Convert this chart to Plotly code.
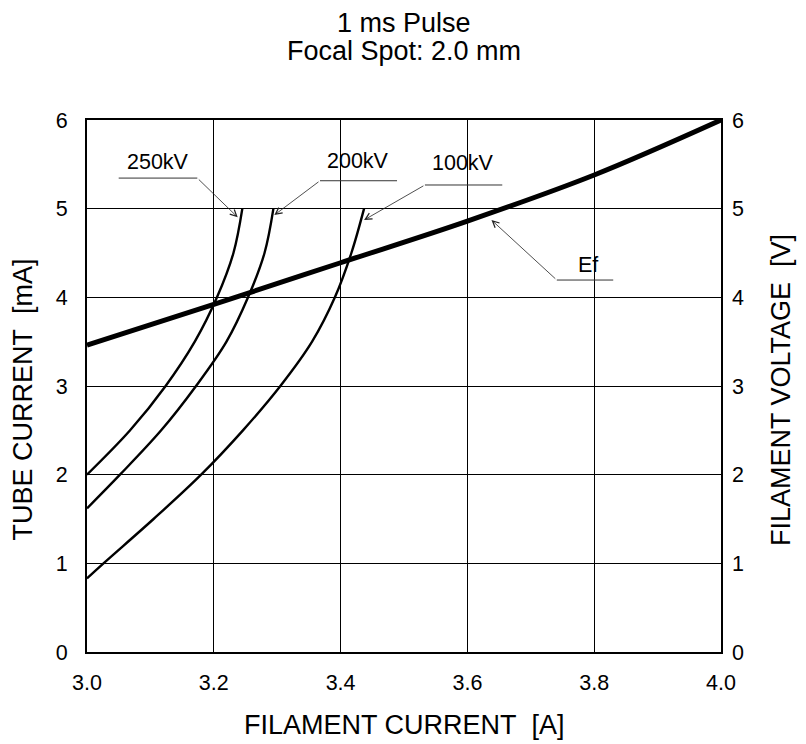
import plotly.graph_objects as go

# 250kV tube current curve (filament current [A], tube current [mA])
x_250 = [3.000, 3.068, 3.124, 3.170, 3.205, 3.231, 3.245]
y_250 = [2.00, 2.50, 3.00, 3.50, 4.00, 4.50, 5.00]
# 200kV
x_200 = [3.000, 3.052, 3.117, 3.172, 3.220, 3.254, 3.280, 3.294]
y_200 = [1.62, 2.00, 2.50, 3.00, 3.50, 4.00, 4.50, 5.00]
# 100kV
x_100 = [3.000, 3.026, 3.105, 3.180, 3.246, 3.305, 3.355, 3.391, 3.417, 3.437]
y_100 = [0.83, 1.00, 1.50, 2.00, 2.50, 3.00, 3.50, 4.00, 4.50, 5.00]
# Filament voltage Ef [V]
x_ef = [3.0, 3.2, 3.4, 3.6, 3.8, 4.0]
y_ef = [3.46, 3.92, 4.39, 4.86, 5.38, 6.0]

x_ticks = [3.0, 3.2, 3.4, 3.6, 3.8, 4.0]
x_ticklabels = ["3.0", "3.2", "3.4", "3.6", "3.8", "4.0"]
y_ticks = [0, 1, 2, 3, 4, 5, 6]

# label info: text, text x, text y, underline x0, x1, y, leader start x, arrow tip x, tip y
labels = [
    ("250kV", 3.1125, 5.53, 3.050, 3.174, 5.345, 3.174, 3.2377, 4.903),
    ("200kV", 3.427, 5.54, 3.3675, 3.489, 5.315, 3.3675, 3.2955, 4.928),
    ("100kV", 3.593, 5.52, 3.533, 3.655, 5.267, 3.533, 3.437, 4.872),
    ("Ef", 3.790, 4.36, 3.741, 3.830, 4.195, 3.741, 3.638, 4.872),
]

font = "Liberation Sans, Arial, sans-serif"
TICK = 21.5
TITLE = 27

fig = go.Figure()
for xs, ys in [(x_250, y_250), (x_200, y_200), (x_100, y_100)]:
    fig.add_trace(go.Scatter(x=xs, y=ys, mode="lines",
                             line=dict(color="black", width=2.4, shape="spline", smoothing=1.0),
                             showlegend=False, hoverinfo="skip"))
fig.add_trace(go.Scatter(x=x_ef, y=y_ef, mode="lines", yaxis="y2",
                         line=dict(color="black", width=5, shape="spline", smoothing=1.0),
                         showlegend=False, hoverinfo="skip"))

for text, tx, ty, ux0, ux1, uy, ax, hx, hy in labels:
    fig.add_shape(type="line", x0=ux0, x1=ux1, y0=uy, y1=uy, xref="x", yref="y",
                  line=dict(color="#333333", width=1))
    fig.add_annotation(x=tx, y=ty, text=text, showarrow=False, xref="x", yref="y",
                       font=dict(family=font, size=TICK, color="black"))
    fig.add_annotation(x=hx, y=hy, ax=ax, ay=uy, xref="x", yref="y", axref="x", ayref="y",
                       text="", showarrow=True, arrowhead=5, arrowsize=1.6, arrowwidth=0.8,
                       arrowcolor="#222222", standoff=0)

# titles
fig.add_annotation(x=0.5, y=1.1823, xref="paper", yref="paper", text="1 ms Pulse", showarrow=False,
                   font=dict(family=font, size=TITLE, color="black"), yanchor="middle")
fig.add_annotation(x=0.5, y=1.1297, xref="paper", yref="paper", text="Focal Spot: 2.0 mm", showarrow=False,
                   font=dict(family=font, size=TITLE, color="black"), yanchor="middle")
# axis titles
fig.add_annotation(x=0.5, y=-0.137, xref="paper", yref="paper", text="FILAMENT CURRENT\u00a0\u00a0[A]",
                   showarrow=False, font=dict(family=font, size=TITLE, color="black"), yanchor="middle")
fig.add_annotation(x=-0.1017, y=0.4737, xref="paper", yref="paper", text="TUBE CURRENT\u00a0\u00a0[mA]",
                   showarrow=False, textangle=-90, font=dict(family=font, size=TITLE, color="black"),
                   xanchor="center", yanchor="middle")
fig.add_annotation(x=1.0946, y=0.4925, xref="paper", yref="paper", text="FILAMENT VOLTAGE\u00a0\u00a0[V]",
                   showarrow=False, textangle=-90, font=dict(family=font, size=TITLE, color="black"),
                   xanchor="center", yanchor="middle")

axis_common = dict(showline=True, linecolor="black", linewidth=2, mirror=True, showgrid=True,
                   gridcolor="black", gridwidth=1, zeroline=False, ticks="",
                   tickfont=dict(family=font, size=TICK, color="black"))

fig.update_layout(
    width=798, height=736,
    margin=dict(l=79, r=85, t=112, b=92),
    paper_bgcolor="white", plot_bgcolor="white",
    xaxis=dict(range=[3.0, 4.0], tickvals=x_ticks, ticktext=x_ticklabels, ticklabelstandoff=10,
               **axis_common),
    yaxis=dict(range=[0, 6], tickvals=y_ticks, ticklabelstandoff=13, **axis_common),
    yaxis2=dict(range=[0, 6], tickvals=y_ticks, overlaying="y", side="right", showgrid=False,
                showline=False, zeroline=False, ticks="", ticklabelstandoff=10,
                tickfont=dict(family=font, size=TICK, color="black")),
)

fig.write_html("out.html")
